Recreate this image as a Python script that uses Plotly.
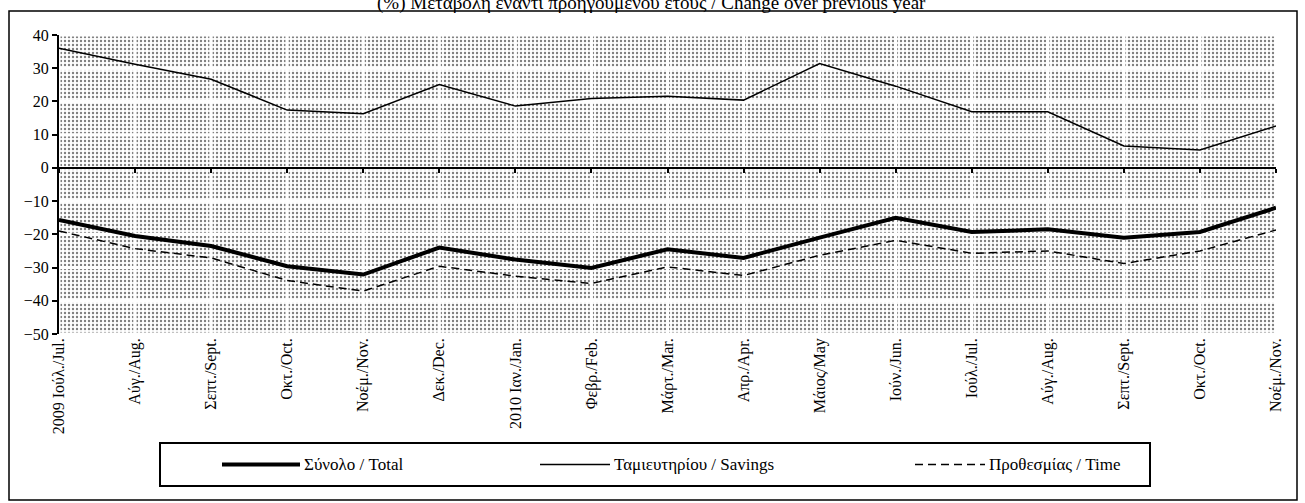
import plotly.graph_objects as go

months = ['2009 Ιούλ./Jul.', 'Αύγ./Aug.', 'Σεπτ./Sept.', 'Οκτ./Oct.', 'Νοέμ./Nov.', 'Δεκ./Dec.',
          '2010 Ιαν./Jan.', 'Φεβρ./Feb.', 'Μάρτ./Mar.', 'Απρ./Apr.', 'Μάιος/May', 'Ιούν./Jun.',
          'Ιούλ./Jul.', 'Αύγ./Aug.', 'Σεπτ./Sept.', 'Οκτ./Oct.', 'Νοέμ./Nov.']

total = [-15.7, -20.5, -23.5, -29.6, -32.1, -24.0, -27.6, -30.1, -24.5, -27.1, -21.0,
         -15.0, -19.3, -18.5, -21.0, -19.3, -12.0]
savings = [36.0, 31.2, 26.7, 17.4, 16.3, 25.1, 18.6, 20.9, 21.6, 20.4, 31.4,
           24.6, 16.9, 16.9, 6.6, 5.4, 12.6]
time_dep = [-19.0, -24.3, -27.1, -33.9, -37.1, -29.6, -32.6, -34.8, -29.8, -32.4, -26.3,
            -21.8, -25.7, -25.0, -28.8, -25.0, -18.7]

names = ['Σύνολο / Total', 'Ταμιευτηρίου / Savings', 'Προθεσμίας / Time']
y_ticks = [40, 30, 20, 10, 0, -10, -20, -30, -40, -50]
title = '(%) Μεταβολή έναντι προηγούμενου έτους / Change over previous year'

ymin, ymax = -50, 40
idx = list(range(len(months)))
font = 'Liberation Serif'

styles = [dict(color='black', width=4),
          dict(color='black', width=1.5),
          dict(color='black', width=1.5, dash='8px,5px')]

# dotted background blocks (one per category interval and per 10-unit band)
bx, bbase = [], []
for i in range(len(months) - 1):
    for b in range(ymin, ymax, 10):
        bx.append(i + 0.5)
        bbase.append(b)

fig = go.Figure()
fig.add_trace(go.Bar(x=bx, y=[10] * len(bx), base=bbase, width=1,
                     marker=dict(color='white', line=dict(color='white', width=3),
                                 pattern=dict(shape='.', fgcolor='black', bgcolor='white',
                                              size=4, solidity=0.28)),
                     showlegend=False, hoverinfo='skip'))

for vals, name, st in zip([total, savings, time_dep], names, styles):
    fig.add_trace(go.Scatter(x=idx, y=vals, mode='lines', name=name, xaxis='x2',
                             line=st, showlegend=False))

W, H = 1305, 503
L, R, T, B = 59, 29, 35, 169
pw, ph = W - L - R, H - T - B

def px_x(p):
    return (p - L) / pw

def px_y(p):
    return (H - B - p) / ph

# legend drawn as a framed row of line samples + labels
leg_y = px_y(464.5)
leg_lines = [(222, 300), (540, 610), (915, 985)]
shapes = [dict(type='rect', xref='paper', yref='paper', x0=px_x(9), x1=px_x(1297),
               y0=px_y(500), y1=px_y(11), line=dict(color='black', width=1.5),
               fillcolor='rgba(0,0,0,0)', layer='below'),
          dict(type='rect', xref='paper', yref='paper', x0=px_x(160), x1=px_x(1150),
               y0=px_y(486), y1=px_y(443), line=dict(color='black', width=2),
               fillcolor='rgba(0,0,0,0)', layer='below')]
annotations = [dict(text=title, xref='paper', yref='paper', x=px_x(651), y=px_y(3),
                    xanchor='center', yanchor='middle', showarrow=False,
                    font=dict(family=font, size=19))]
for (a, b), name, st in zip(leg_lines, names, styles):
    shapes.append(dict(type='line', xref='paper', yref='paper', x0=px_x(a), x1=px_x(b),
                       y0=leg_y, y1=leg_y, line=st))
    annotations.append(dict(text=name, xref='paper', yref='paper', x=px_x(b + 2), y=leg_y,
                            xanchor='left', yanchor='middle', showarrow=False,
                            font=dict(family=font, size=17)))

fig.update_layout(
    width=W, height=H,
    margin=dict(l=L, r=R, t=T, b=B, autoexpand=False),
    paper_bgcolor='white', plot_bgcolor='white',
    font=dict(family=font, size=13, color='black'),
    barmode='overlay', showlegend=False,
    xaxis=dict(range=[0, len(months) - 1], tickvals=idx, ticktext=months, tickangle=-90,
               showgrid=False, zeroline=False, showline=False, ticks='',
               tickfont=dict(family=font, size=16)),
    xaxis2=dict(range=[0, len(months) - 1], overlaying='x', anchor='free',
                position=(0 - ymin) / (ymax - ymin), tickvals=idx, showticklabels=False,
                showgrid=False, zeroline=False, showline=True, linecolor='black', linewidth=2,
                ticks='outside', ticklen=4, tickwidth=1.5, tickcolor='black'),
    yaxis=dict(range=[ymin, ymax], tickvals=y_ticks, showgrid=False, zeroline=False,
               showline=True, linecolor='black', linewidth=2, ticks='outside', ticklen=5,
               tickwidth=2, tickcolor='black', layer='above traces',
               tickfont=dict(family=font, size=16)),
    shapes=shapes,
    annotations=annotations,
)

fig.write_html('out.html', config={'displayModeBar': False},
               post_script="document.body.style.margin='0px';")
